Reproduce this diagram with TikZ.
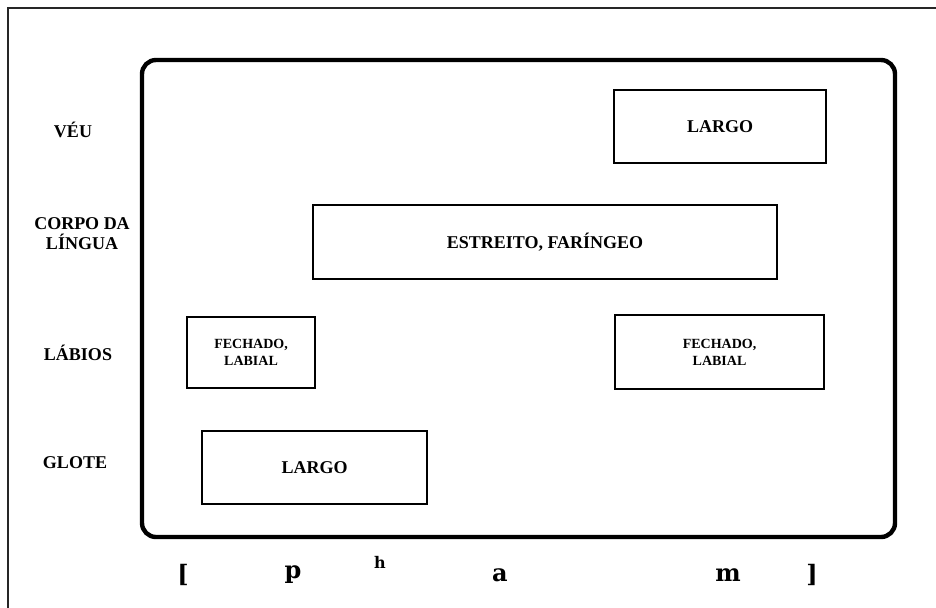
\documentclass[tikz,border=0pt]{standalone}
\usepackage{fontspec}
\setmainfont{Liberation Serif}
\newfontfamily\transcfont{DejaVu Serif}
\usepackage{tikz}
\usetikzlibrary{positioning}
\tikzset{
  tier/.style={font=\fontsize{9}{10}\selectfont\bfseries,align=center},
  gesture/.style={draw,line width=1.4pt,inner sep=0pt,align=center,font=\fontsize{9}{10}\selectfont\bfseries},
  smallgesture/.style={gesture,font=\fontsize{7}{8.5}\selectfont\bfseries},
  segment/.style={font=\fontsize{12}{12}\selectfont\transcfont\bfseries}
}

\begin{document}
\begin{tikzpicture}[x=0.5pt,y=-0.5pt]
        \useasboundingbox (0,0) rectangle (936,607);
        \draw[line width=0.9pt,black!85] (8,8) rectangle (945,620);
        \draw[line width=2.2pt,rounded corners=7pt] (142,60) rectangle (895,537);
        % articulators
        \node[tier] (veu) at (73,130) {VÉU};
        \node[tier] (corpo) at (82,234) {CORPO DA\\LÍNGUA};
        \node[tier] (labios) at (78,353) {LÁBIOS};
        \node[tier] (glote) at (75,463) {GLOTE};
        % gestures
        \node[gesture,minimum width=106pt,minimum height=36.5pt] (veularg) at (720,126.5) {LARGO};
        \node[gesture,minimum width=232pt,minimum height=37pt] (corpoestr) at (545,242) {ESTREITO, FARÍNGEO};
        \node[smallgesture,minimum width=64pt,minimum height=35.5pt] (labfech1) at (251,352.5) {FECHADO,\\LABIAL};
        \node[smallgesture,minimum width=104.5pt,minimum height=37pt] (labfech2) at (719.5,352) {FECHADO,\\LABIAL};
        \node[gesture,minimum width=112.5pt,minimum height=36.5pt] (glotelarg) at (314.5,467.5) {LARGO};
        % transcription
        \node[segment] (lbrack) at (183,575) {[};
        \node[segment] (segp) at (293,575) {p};
        \node[segment,font=\fontsize{8}{8}\selectfont\transcfont\bfseries] (segh) at (380,562) {h};
        \node[segment] (sega) at (500,575) {a};
        \node[segment] (segm) at (728,575) {m};
        \node[segment] (rbrack) at (812,575) {]};
      \end{tikzpicture}
\end{document}
